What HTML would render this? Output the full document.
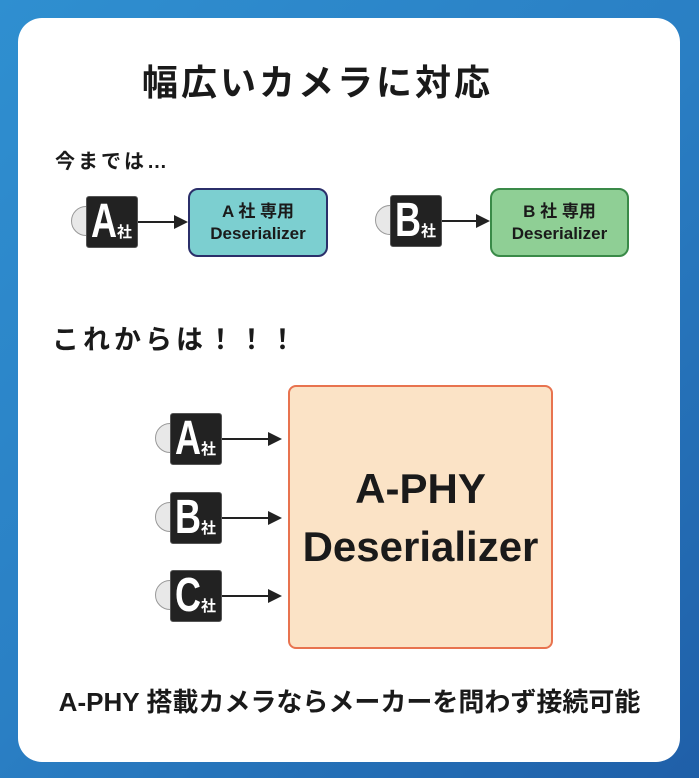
<!DOCTYPE html>
<html><head><meta charset="utf-8"><style>
*{margin:0;padding:0;box-sizing:border-box}
body{width:699px;height:778px;overflow:hidden;background:linear-gradient(135deg,#2f8fd0,#2a7fc4 50%,#1f5fa8);font-family:"Liberation Sans","Noto Sans CJK JP",sans-serif;position:relative}
.card{position:absolute;left:18px;top:18px;width:662px;height:744px;background:#fff;border-radius:24px}
.t{position:absolute;font-weight:bold;color:#1a1a1a;white-space:nowrap}
.cam{position:absolute;width:52px;height:52px}
.cam .lens{position:absolute;left:-15px;top:10px;width:30px;height:30px;border-radius:50%;background:#e8e8e8;border:1.5px solid #999}
.cam .body{position:absolute;left:0;top:0;width:52px;height:52px;background:#222;border-radius:3px;border:1px solid #555}
.cam .L{position:absolute;left:5px;top:1px;color:#fff;font-weight:bold;font-family:"Liberation Sans Narrow","Liberation Sans",sans-serif;font-size:48px;line-height:50px;transform:scaleX(0.75);transform-origin:left}
.cam .s{position:absolute;left:31px;top:25px;color:#fff;font-weight:bold;font-size:15px}
.arr{position:absolute;height:2px;background:#222}
.arr:after{content:"";position:absolute;right:-2px;top:-6px;border-left:14px solid #222;border-top:7px solid transparent;border-bottom:7px solid transparent}
.box{position:absolute;text-align:center;font-weight:bold;color:#1a1a1a;font-size:17px;line-height:22px;padding-top:11px}
</style></head><body>
<div class="card"></div>
<div class="t" style="left:142px;top:54px;font-size:36px;letter-spacing:3px">幅広いカメラに対応</div>
<div class="t" style="left:55px;top:145px;font-size:20px;letter-spacing:3px">今までは…</div>

<div class="cam" style="left:86px;top:196px"><div class="lens"></div><div class="body"></div><div class="L">A</div><div class="s">社</div></div>
<div class="arr" style="left:138px;top:221px;width:48px"></div>
<div class="box" style="left:188px;top:188px;width:140px;height:69px;background:#7ccfd0;border:2px solid #2b2f6a;border-radius:10px">A 社 専用<br>Deserializer</div>

<div class="cam" style="left:390px;top:195px"><div class="lens"></div><div class="body"></div><div class="L">B</div><div class="s">社</div></div>
<div class="arr" style="left:442px;top:220px;width:46px"></div>
<div class="box" style="left:490px;top:188px;width:139px;height:69px;background:#8fcf95;border:2px solid #3a8a48;border-radius:10px">B 社 専用<br>Deserializer</div>

<div class="t" style="left:52px;top:318px;font-size:27px;letter-spacing:4px">これからは！！！</div>

<div class="cam" style="left:170px;top:413px"><div class="lens"></div><div class="body"></div><div class="L">A</div><div class="s">社</div></div>
<div class="arr" style="left:222px;top:438px;width:58px"></div>
<div class="cam" style="left:170px;top:492px"><div class="lens"></div><div class="body"></div><div class="L">B</div><div class="s">社</div></div>
<div class="arr" style="left:222px;top:517px;width:58px"></div>
<div class="cam" style="left:170px;top:570px"><div class="lens"></div><div class="body"></div><div class="L">C</div><div class="s">社</div></div>
<div class="arr" style="left:222px;top:595px;width:58px"></div>

<div style="position:absolute;left:288px;top:385px;width:265px;height:264px;background:#fbe3c6;border:2px solid #e8734f;border-radius:8px"></div>
<div class="t" style="left:288px;top:460px;width:265px;text-align:center;font-size:42px;line-height:58px">A-PHY<br>Deserializer</div>

<div class="t" style="left:0;top:682px;width:699px;text-align:center;font-size:26px">A-PHY 搭載カメラならメーカーを問わず接続可能</div>
</body></html>
